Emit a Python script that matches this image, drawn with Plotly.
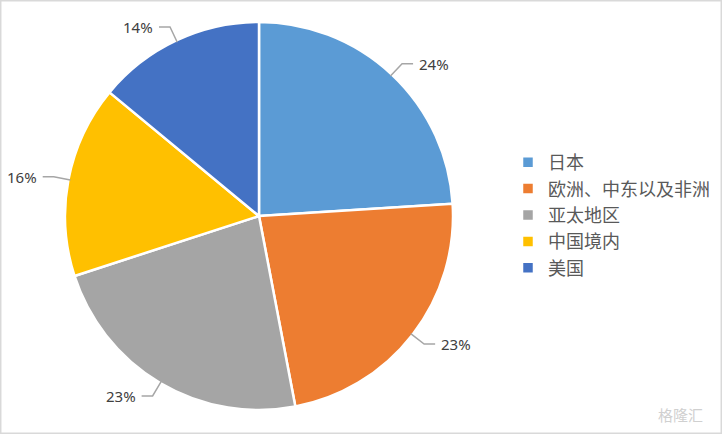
import math
import plotly.graph_objects as go

categories = ["日本", "欧洲、中东以及非洲", "亚太地区", "中国境内", "美国"]
values = [24, 23, 23, 16, 14]
colors = ["#5B9BD5", "#ED7D31", "#A5A5A5", "#FFC000", "#4472C4"]

W, H = 722, 434
cx, cy, r = 259, 216, 194  # pie center and radius in px

fig = go.Figure(go.Pie(
    labels=categories, values=values, sort=False, direction="clockwise", rotation=0,
    marker=dict(colors=colors, line=dict(color="white", width=2.5)),
    textinfo="none", hoverinfo="label+percent",
    domain=dict(x=[(cx - r) / W, (cx + r) / W], y=[1 - (cy + r) / H, 1 - (cy - r) / H]),
))

def px2paper(x, y):
    return x / W, 1 - y / H

total = sum(values)
shapes = []
annotations = []
acc = 0
for v in values:
    mid = (acc + v / 2) / total * 2 * math.pi
    acc += v
    dx, dy = math.sin(mid), -math.cos(mid)
    p = (cx + (r - 2) * dx, cy + (r - 2) * dy)
    e = (cx + (r + 15) * dx, cy + (r + 15) * dy)
    side = 1 if dx >= 0 else -1
    end = (e[0] + 11 * side, e[1])
    x0, y0 = px2paper(*p)
    x1, y1 = px2paper(*e)
    x2, y2 = px2paper(*end)
    shapes.append(dict(type="path", xref="paper", yref="paper",
                       path=f"M {x0} {y0} L {x1} {y1} L {x2} {y2}",
                       line=dict(color="#A6A6A6", width=1.5)))
    tx, ty = px2paper(end[0] + 4 * side, end[1])
    annotations.append(dict(x=tx, y=ty, xref="paper", yref="paper", text=f"{round(v / total * 100)}%",
                            showarrow=False, xanchor="left" if side > 0 else "right", yanchor="middle",
                            font=dict(size=15, color="#404040", family="Noto Sans")))

shapes.append(dict(type="rect", xref="paper", yref="paper", x0=0.001, y0=0.002, x1=0.999, y1=0.998,
                   line=dict(color="#D9D9D9", width=1.5)))
annotations.append(dict(x=705 / W, y=1 - 414 / H, xref="paper", yref="paper", text="格隆汇",
                        showarrow=False, xanchor="right", yanchor="middle",
                        font=dict(size=15, color="#D0D0D0", family="Noto Sans CJK SC")))

fig.update_layout(
    width=W, height=H, margin=dict(l=0, r=0, t=0, b=0),
    paper_bgcolor="white", plot_bgcolor="white",
    showlegend=True,
    legend=dict(x=508 / W, y=1 - 215 / H, xanchor="left", yanchor="middle",
                font=dict(size=18, color="#595959", family="Noto Sans CJK SC"),
                itemwidth=30, tracegroupgap=0),
    shapes=shapes, annotations=annotations,
)
fig.write_html("out.html", config={"displayModeBar": False},
               post_script="document.body.style.margin='0';document.body.style.overflow='hidden';")
